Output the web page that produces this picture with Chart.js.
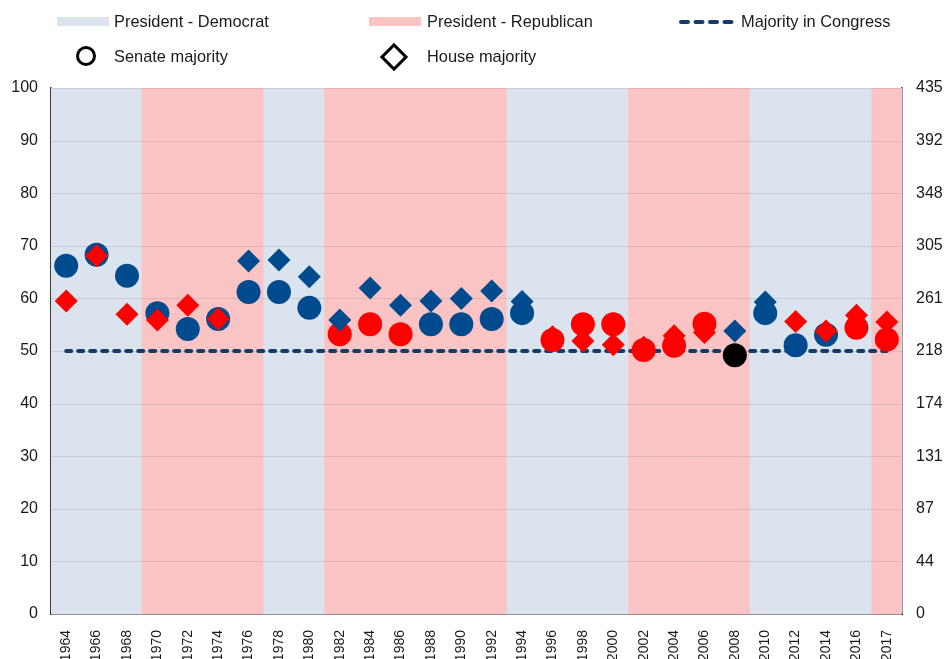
<!DOCTYPE html>
<html>
<head>
<meta charset="utf-8">
<script src="https://cdn.jsdelivr.net/npm/chart.js@4/dist/chart.umd.min.js"></script>
<style>
  html, body { margin: 0; padding: 0; background: #fff; }
  #wrap { position: relative; width: 946px; height: 659px; font-family: "Liberation Sans", Arial, sans-serif; }
  #chart { position: absolute; left: 0; top: 0; }
  .lg { position: absolute; font-size: 16.4px; line-height: 20px; color: #1a1a1a; white-space: nowrap; }
  .sw { position: absolute; height: 9px; width: 52px; }
</style>
</head>
<body>
<div id="wrap">
  <canvas id="chart" width="946" height="659"></canvas>

  <div class="sw" style="left:57px;top:17px;background:#dae3ee"></div>
  <div class="lg" style="left:114px;top:11px">President - Democrat</div>
  <div class="sw" style="left:369px;top:17px;background:#fbc4c4"></div>
  <div class="lg" style="left:427px;top:11px">President - Republican</div>
  <svg style="position:absolute;left:678px;top:17px" width="60" height="10">
    <line x1="3" y1="5" x2="57" y2="5" stroke="#123d6a" stroke-width="4" stroke-linecap="round" stroke-dasharray="7 7.5"/>
  </svg>
  <div class="lg" style="left:741px;top:11px">Majority in Congress</div>

  <div style="position:absolute;left:76px;top:46px;width:14px;height:14px;border:3px solid #000;border-radius:50%"></div>
  <div class="lg" style="left:114px;top:46px">Senate majority</div>
  <div style="position:absolute;left:384px;top:47px;width:14px;height:14px;border:3px solid #000;transform:rotate(45deg)"></div>
  <div class="lg" style="left:427px;top:46px">House majority</div>
</div>

<script>
  // years on the x axis
  const years = ['1964', '1966', '1968', '1970', '1972', '1974', '1976', '1978', '1980', '1982',
    '1984', '1986', '1988', '1990', '1992', '1994', '1996', '1998', '2000', '2002',
    '2004', '2006', '2008', '2010', '2012', '2014', '2016', '2017'];

  // party of the president for each period
  const presidentParty = ['D', 'D', 'D', 'R', 'R', 'R', 'R', 'D', 'D', 'R',
    'R', 'R', 'R', 'R', 'R', 'D', 'D', 'D', 'D', 'R',
    'R', 'R', 'R', 'D', 'D', 'D', 'D', 'R'];

  // senate majority share (%) and majority party
  const senateMajority = [66.2, 68.3, 64.3, 57.2, 54.2, 56.1, 61.2, 61.2, 58.2, 53.2,
    55.1, 53.2, 55.1, 55.1, 56.1, 57.2, 52.1, 55.1, 55.1, 50.2,
    51.0, 55.2, 49.2, 57.2, 51.1, 53.1, 54.4, 52.2];
  const senateParty = ['D', 'D', 'D', 'D', 'D', 'D', 'D', 'D', 'D', 'R',
    'R', 'R', 'D', 'D', 'D', 'D', 'R', 'R', 'R', 'R',
    'R', 'R', 'T', 'D', 'D', 'D', 'R', 'R'];

  // house majority share (%) and majority party
  const houseMajority = [59.5, 68.1, 57.0, 55.9, 58.7, 56.1, 67.1, 67.3, 64.1, 55.9,
    62.0, 58.7, 59.5, 60.0, 61.4, 59.4, 52.7, 51.9, 51.2, 50.7,
    52.9, 53.5, 53.8, 59.3, 55.6, 53.8, 56.8, 55.5];
  const houseParty = ['R', 'R', 'R', 'R', 'R', 'R', 'D', 'D', 'D', 'D',
    'D', 'D', 'D', 'D', 'D', 'D', 'R', 'R', 'R', 'R',
    'R', 'R', 'D', 'D', 'R', 'R', 'R', 'R'];

  // majority threshold (%)
  const majorityLine = years.map(() => 50);

  // right axis labels (seats in the House)
  const houseSeatTicks = ['0', '44', '87', '131', '174', '218', '261', '305', '348', '392', '435'];

  const bandColor = { D: '#dae3ee', R: '#fbc4c4' };
  const pointColor = { D: '#004b8d', R: '#ff0000', T: '#000000' };

  // draws horizontal grid over the background bands but under the markers
  const gridOverBands = {
    id: 'gridOverBands',
    afterDatasetDraw(chart, args) {
      if (args.index !== 0) return;
      const { ctx, chartArea } = chart;
      const y = chart.scales.y;
      ctx.save();
      ctx.strokeStyle = 'rgba(110,110,110,0.18)';
      ctx.lineWidth = 1;
      y.ticks.forEach(t => {
        const py = Math.round(y.getPixelForValue(t.value)) + 0.5;
        ctx.beginPath();
        ctx.moveTo(chartArea.left, py);
        ctx.lineTo(chartArea.right, py);
        ctx.stroke();
      });
      ctx.restore();
    }
  };

  new Chart(document.getElementById('chart'), {
    type: 'bar',
    data: {
      labels: years,
      datasets: [
        {
          label: 'President',
          data: years.map(() => 100),
          backgroundColor: presidentParty.map(p => bandColor[p]),
          barPercentage: 1,
          categoryPercentage: 1,
          borderWidth: 0,
          order: 4
        },
        {
          type: 'line',
          label: 'Majority in Congress',
          data: majorityLine,
          borderColor: '#123d6a',
          borderWidth: 4,
          borderDash: [5, 7],
          borderCapStyle: 'round',
          pointRadius: 0,
          fill: false,
          order: 3
        },
        {
          type: 'line',
          label: 'Senate majority',
          data: senateMajority,
          showLine: false,
          pointStyle: 'circle',
          pointRadius: 12,
          pointBorderWidth: 0,
          pointBackgroundColor: senateParty.map(p => pointColor[p]),
          pointBorderColor: senateParty.map(p => pointColor[p]),
          order: 2
        },
        {
          type: 'line',
          label: 'House majority',
          data: houseMajority,
          showLine: false,
          pointStyle: 'rectRot',
          pointRadius: 11.5,
          pointBorderWidth: 0,
          pointBackgroundColor: houseParty.map(p => pointColor[p]),
          pointBorderColor: houseParty.map(p => pointColor[p]),
          order: 1
        }
      ]
    },
    options: {
      responsive: false,
      animation: false,
      layout: { padding: { top: 88, left: 0, right: 0, bottom: 0 } },
      plugins: {
        legend: { display: false },
        tooltip: { enabled: false }
      },
      scales: {
        x: {
          grid: { display: false },
          border: { display: true, color: '#3a3a3a', width: 1.5 },
          ticks: {
            autoSkip: false,
            minRotation: 90,
            maxRotation: 90,
            padding: 8,
            color: '#1a1a1a',
            font: { family: '"Liberation Sans", Arial, sans-serif', size: 14 }
          },
          afterFit(scale) { scale.height = 45; }
        },
        y: {
          position: 'left',
          min: 0,
          max: 100,
          grid: { display: false, drawTicks: false },
          border: { display: true, color: '#3a3a3a', width: 1.5 },
          ticks: {
            stepSize: 10,
            padding: 13,
            color: '#1a1a1a',
            font: { family: '"Liberation Sans", Arial, sans-serif', size: 16 }
          },
          afterFit(scale) { scale.width = 51; }
        },
        y2: {
          position: 'right',
          min: 0,
          max: 100,
          grid: { display: false, drawTicks: false },
          border: { display: true, color: '#3a3a3a', width: 1.5 },
          ticks: {
            stepSize: 10,
            padding: 14,
            color: '#1a1a1a',
            font: { family: '"Liberation Sans", Arial, sans-serif', size: 16 },
            callback: (v, i) => houseSeatTicks[i]
          },
          afterFit(scale) { scale.width = 44; }
        }
      }
    },
    plugins: [gridOverBands]
  });
</script>
</body>
</html>
